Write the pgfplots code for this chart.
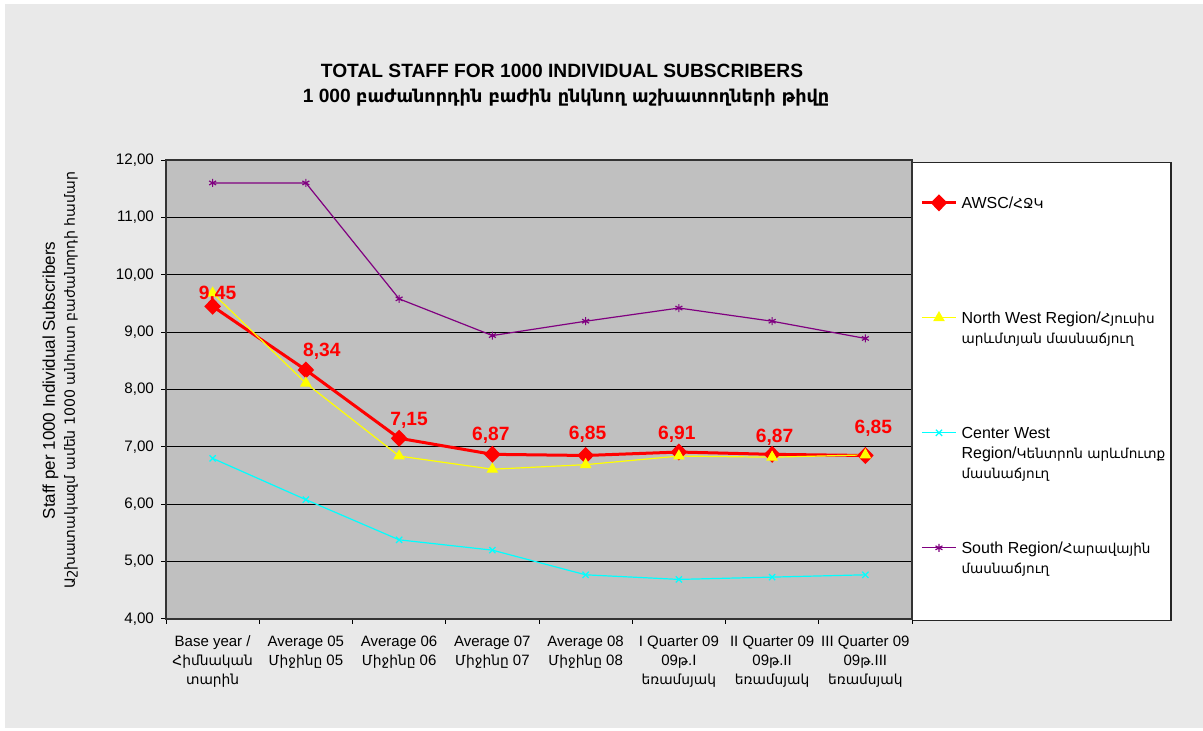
\documentclass[border=0pt]{standalone}
\usepackage{pgfplots}
\pgfplotsset{compat=1.18}
\usepackage{pgfplotstable}
\usepackage{fontspec}
\setmainfont{Liberation Sans}
\newfontfamily\arm[Scale=0.92]{DejaVu Sans}
\newfontfamily\army[Scale=0.83]{DejaVu Sans}
\newfontfamily\arml[Scale=0.85]{DejaVu Sans}
\definecolor{bggray}{RGB}{233,233,233}
\definecolor{plotgray}{RGB}{192,192,192}
\definecolor{cawsc}{RGB}{255,0,0}
\definecolor{cnw}{RGB}{255,255,0}
\definecolor{ccw}{RGB}{0,255,255}
\definecolor{csouth}{RGB}{128,0,128}

% dx, dy: label offsets in pt
\pgfplotstableread{
x y dx dy
0.5 9.45 2.5 6
1.5 8.34 8 9.5
2.5 7.15 5 8.75
3.5 6.87 -0.75 9.75
4.5 6.85 1 10.5
5.5 6.91 -1 9
6.5 6.87 1.25 8.5
7.5 6.85 4 13.5
}\tabawsc
\pgfplotstableread{
x y
0.5 9.68
1.5 8.11
2.5 6.84
3.5 6.61
4.5 6.69
5.5 6.84
6.5 6.82
7.5 6.86
}\tabnw
\pgfplotstableread{
x y
0.5 6.80
1.5 6.08
2.5 5.38
3.5 5.20
4.5 4.77
5.5 4.69
6.5 4.73
7.5 4.77
}\tabcw
\pgfplotstableread{
x y
0.5 11.60
1.5 11.60
2.5 9.58
3.5 8.94
4.5 9.19
5.5 9.42
6.5 9.19
7.5 8.89
}\tabsouth

\begin{document}
\begin{tikzpicture}
% background
\fill[white] (0pt,0pt) rectangle (601.5pt,365.5pt);
\fill[bggray] (2.5pt,1.5pt) rectangle (601.5pt,363.5pt);
% title
\node[font=\bfseries\fontsize{9.6}{11}\selectfont] at (281pt,330pt) {TOTAL STAFF FOR 1000 INDIVIDUAL SUBSCRIBERS};
\node[font=\bfseries\fontsize{9.6}{11}\selectfont] at (283pt,316.5pt) {1 000 {\arm բաժանորդին բաժին ընկնող աշխատողների թիվը}};
% legend box
\draw[black!85, line width=0.6pt, fill=white] (456.4pt,55.2pt) rectangle (585.5pt,284.2pt);
\begin{axis}[
  at={(83pt,56pt)}, anchor=south west,
  scale only axis, width=373pt, height=229.5pt,
  xmin=0, xmax=8, ymin=4, ymax=12,
  clip=false,
  axis background/.style={fill=plotgray},
  axis line style={black!80, line width=0.6pt},
  ytick={4,5,...,12},
  ymajorgrids, grid style={black, line width=0.55pt},
  tick align=outside, tick pos=left,
  major tick length=2.5pt, minor tick length=2.5pt,
  tick style={black, line width=0.5pt},
  xtick={0.5,1.5,...,7.5},
  major x tick style={draw=none},
  minor xtick={0,1,...,8},
  xticklabels={
    {Base year /\\{\arm Հիմնական}\\{\arm տարին}},
    {Average 05\\{\arm Միջինը} 05},
    {Average 06\\{\arm Միջինը} 06},
    {Average 07\\{\arm Միջինը} 07},
    {Average 08\\{\arm Միջինը} 08},
    {I Quarter 09\\09{\arm թ}.I\\{\arm եռամսյակ}},
    {II Quarter 09\\09{\arm թ}.II\\{\arm եռամսյակ}},
    {III Quarter 09\\09{\arm թ}.III\\{\arm եռամսյակ}}},
  xticklabel style={align=center, font=\fontsize{7.5}{9.5}\selectfont, anchor=north, yshift=-2.5pt},
  yticklabel style={font=\fontsize{7.6}{9}\selectfont},
  /pgf/number format/.cd, fixed, fixed zerofill, precision=2, use comma, assume math mode=true,
  /pgfplots/.cd,
  ylabel={Staff per 1000 Individual Subscribers\\{\army Աշխատակազմ ամեն 1000 անհատ բաժանորդի համար}},
  ylabel style={align=center, font=\fontsize{8.5}{10}\selectfont, at={(axis description cs:-0.142,0.52)}, anchor=center},
  legend style={at={(1,1)}, anchor=north west, xshift=4pt, yshift=-17.5pt,
    draw=none, fill=none, inner sep=0pt, column sep=2pt, row sep=0pt,
    cells={anchor=base west}, nodes={inner sep=0pt, text height=6.5pt, text depth=51pt},
    font=\fontsize{8}{10}\selectfont},
  legend image post style={yshift=2.8pt},
]
\addplot[cawsc, line width=1.5pt, mark=diamond*, mark size=3.2pt,
  mark options={xscale=1.3, solid}]
  table[x=x,y=y] {\tabawsc};
\addlegendentry{\parbox[t]{110pt}{\raggedright AWSC/{\arml ՀՋԿ}}}
\addplot[cnw, line width=0.6pt, mark=triangle*, mark size=2.8pt]
  table[x=x,y=y] {\tabnw};
\addlegendentry{\parbox[t]{110pt}{\raggedright North West Region/{\arml Հյուսիս}\\{\arml արևմտյան մասնաճյուղ}}}
\addplot[ccw, line width=0.6pt, mark=x, mark size=2.2pt]
  table[x=x,y=y] {\tabcw};
\addlegendentry{\parbox[t]{110pt}{\raggedright Center West\\Region/{\arml Կենտրոն արևմուտք}\\{\arml մասնաճյուղ}}}
\addplot[csouth, line width=0.6pt, mark=asterisk, mark size=2pt]
  table[x=x,y=y] {\tabsouth};
\addlegendentry{\parbox[t]{110pt}{\raggedright South Region/{\arml Հարավային}\\{\arml մասնաճյուղ}}}
% data labels of AWSC (offset by dx, dy pt from each point)
\addplot[forget plot, draw=none, mark=none, point meta=explicit,
  nodes near coords,
  every node near coord/.append style={anchor=center, inner sep=0pt, text height=, text depth=,
    font=\bfseries\fontsize{9.6}{11}\selectfont, text=cawsc}]
  table[x expr=\thisrow{x}+\thisrow{dx}/46.625, y expr=\thisrow{y}+\thisrow{dy}/28.6875, meta=y] {\tabawsc};
\end{axis}
\end{tikzpicture}
\end{document}
